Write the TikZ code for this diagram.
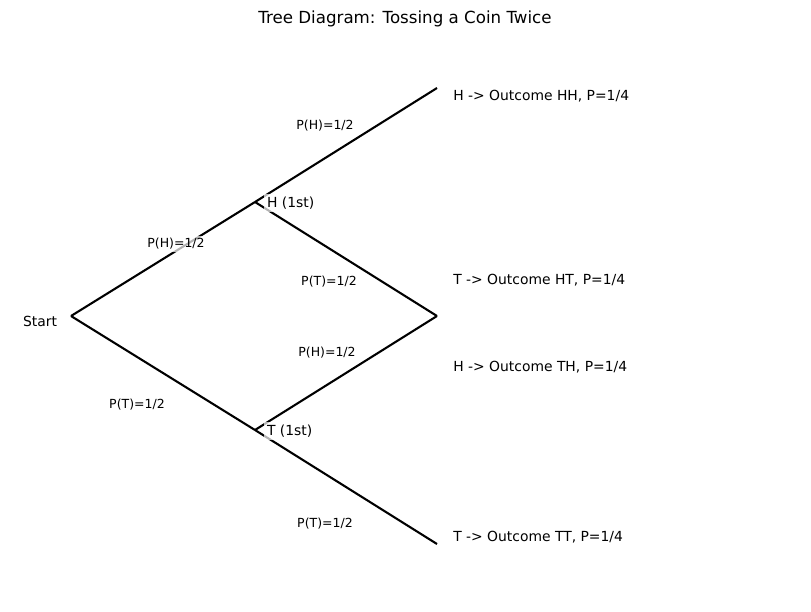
\documentclass[tikz,border=0pt]{standalone}
\usepackage{fontspec}
\setmainfont{DejaVu Sans}
\begin{document}
\begin{tikzpicture}[x=0.72pt,y=-0.72pt,
  branch/.style={line width=1.5pt},
  lbl/.style={fill=white,fill opacity=0.7,text opacity=1,inner sep=2pt,font=\fontsize{10}{12}\selectfont},
  prob/.style={fill=white,fill opacity=0.7,text opacity=1,inner sep=2pt,font=\fontsize{9}{11}\selectfont},
  outc/.style={anchor=west,inner sep=0pt,font=\fontsize{10}{12}\selectfont}]
\useasboundingbox (0,0) rectangle (811,611);
\node[font=\fontsize{12}{14}\selectfont] (title) at (405,19) {Tree Diagram: Tossing a Coin Twice};
\coordinate (start) at (71,316);
\coordinate (h1) at (255,202);
\coordinate (t1) at (255,430);
\coordinate (hh) at (437,88);
\coordinate (mid) at (437,316);
\coordinate (tt) at (437,544);
\draw[branch] (start) -- (h1);
\draw[branch] (start) -- (t1);
\draw[branch] (h1) -- (hh);
\draw[branch] (h1) -- (mid);
\draw[branch] (t1) -- (mid);
\draw[branch] (t1) -- (tt);
\node[lbl,anchor=east] (startlbl) at (60,321) {Start};
\node[lbl,anchor=west] (hlbl) at (264,203) {H (1st)};
\node[lbl,anchor=west] (tlbl) at (264,431) {T (1st)};
\node[prob] (p1) at (176,244) {P(H)=1/2};
\node[prob] (p2) at (137,405) {P(T)=1/2};
\node[prob] (p3) at (325,126) {P(H)=1/2};
\node[prob] (p4) at (329,282) {P(T)=1/2};
\node[prob] (p5) at (327,353) {P(H)=1/2};
\node[prob] (p6) at (325,524) {P(T)=1/2};
\node[outc] (ohh) at (453,96) {H -> Outcome HH, P=1/4};
\node[outc] (oht) at (453,280) {T -> Outcome HT, P=1/4};
\node[outc] (oth) at (453,367) {H -> Outcome TH, P=1/4};
\node[outc] (ott) at (453,537) {T -> Outcome TT, P=1/4};
\end{tikzpicture}
\end{document}
